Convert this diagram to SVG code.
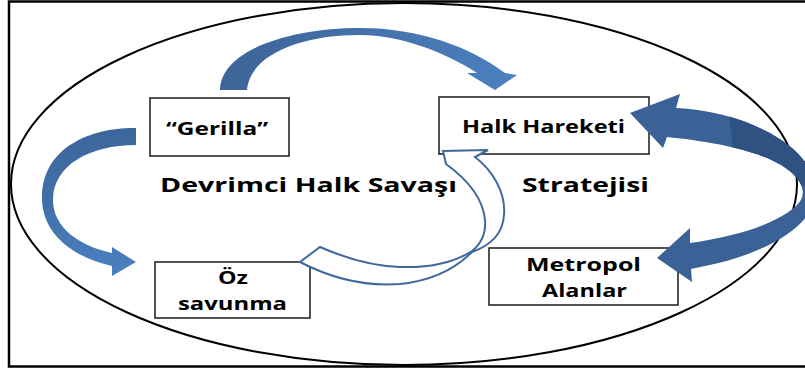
<svg xmlns="http://www.w3.org/2000/svg" xmlns:xlink="http://www.w3.org/1999/xlink" width="805" height="371" viewBox="0 0 805 371">
<style>
.box{fill:#fff;stroke:#1a1a1a;stroke-width:1.5}
.lbl{font-family:"Open Sans","DejaVu Sans",sans-serif;font-weight:bold;font-size:17px;fill:#000}
.title{font-family:"Open Sans","DejaVu Sans",sans-serif;font-weight:bold;font-size:20px;fill:#000}
.outline{fill:#fff;stroke:#41699c;stroke-width:2;stroke-linejoin:miter}
</style>
<defs>
<linearGradient id="gTop" x1="220" y1="0" x2="517" y2="0" gradientUnits="userSpaceOnUse">
<stop offset="0" stop-color="#3c6497"/>
<stop offset="1" stop-color="#4c80bf"/>
</linearGradient>
<linearGradient id="gLeft" x1="0" y1="128" x2="0" y2="276" gradientUnits="userSpaceOnUse">
<stop offset="0" stop-color="#3d669b"/>
<stop offset="0.5" stop-color="#4170a8"/>
<stop offset="1" stop-color="#4b80c0"/>
</linearGradient>
<path id="bigArrow" d="M630,113 L680,94 L676,108 C720,110 765,125 792,148 C812,165 822,188 812,208 C800,232 760,255 705,266 L691,269 L692,282 L657,258 L690,228 L690,243 C740,236 780,222 797,205 C806,196 804,186 795,176 C780,160 745,145 667,137 L663,148 Z"/>
<clipPath id="bigClip"><use xlink:href="#bigArrow"/></clipPath>
</defs>

<rect x="9" y="1.5" width="805" height="365" fill="#fff" stroke="#000" stroke-width="2.5"/>
<ellipse cx="404" cy="184" rx="393" ry="181" fill="none" stroke="#000" stroke-width="2"/>

<g id="node-gerilla">
<rect class="box" x="150" y="98" width="139" height="58"/>
<text class="lbl" x="166" y="135" textLength="102" lengthAdjust="spacingAndGlyphs">“Gerilla”</text>
</g>
<g id="node-halk-hareketi">
<rect class="box" x="439" y="97" width="210" height="57"/>
<text class="lbl" x="462" y="133" textLength="163" lengthAdjust="spacingAndGlyphs">Halk Hareketi</text>
</g>
<g id="node-oz-savunma">
<rect class="box" x="155" y="262" width="155" height="56"/>
<text class="lbl" x="218" y="284" textLength="30" lengthAdjust="spacingAndGlyphs">Öz</text>
<text class="lbl" x="178" y="310" textLength="109" lengthAdjust="spacingAndGlyphs">savunma</text>
</g>
<g id="node-metropol">
<rect class="box" x="489" y="248" width="189" height="57"/>
<text class="lbl" x="526" y="271" textLength="115" lengthAdjust="spacingAndGlyphs">Metropol</text>
<text class="lbl" x="542" y="297" textLength="85" lengthAdjust="spacingAndGlyphs">Alanlar</text>
</g>

<g id="connectors">
<path d="M220,90 C221,50 290,28 360,28 C420,28 470,47 505,73 L517,75 L495,90 L467,73 L477,73 C445,52 400,35 360,35 C300,35 250,55 247,90 Z" fill="url(#gTop)"/>
<path d="M136,128 C95,127 42,145 42,198 C42,235 75,258 112,266 L112,276 L136,262 L112,247 L112,253 C80,246 53,228 53,200 C53,165 90,145 136,145 Z" fill="url(#gLeft)"/>
<path class="outline" d="M300,262 L320,247 C345,258 370,266 400,267 C430,268 455,262 472,251 C482,243 486,232 485,220 C483,198 468,180 446,164 L443,151 L488,150 L475,157 C492,170 506,192 504,215 C503,232 492,245 472,252 C462,262 440,280 400,284 C360,287 325,275 300,262 Z"/>
<use xlink:href="#bigArrow" fill="#3a6296"/>
<polygon points="727,95 830,95 830,186 792,186 733,150" fill="#2f5282" clip-path="url(#bigClip)"/>
</g>

<text class="title" x="160" y="192" textLength="297" lengthAdjust="spacingAndGlyphs">Devrimci Halk Savaşı</text>
<text class="title" x="522" y="192" textLength="127" lengthAdjust="spacingAndGlyphs">Stratejisi</text>
</svg>
